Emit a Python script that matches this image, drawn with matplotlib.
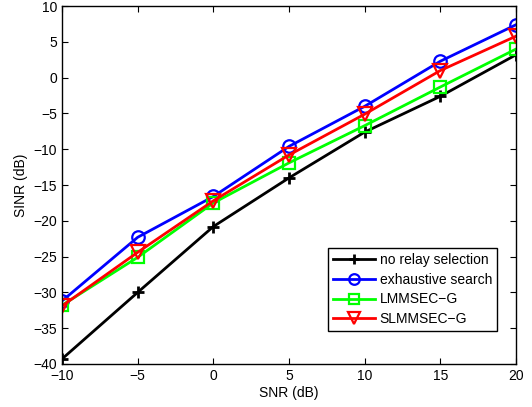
import matplotlib
matplotlib.use("Agg")
import matplotlib.pyplot as plt

plt.rcParams['font.family'] = ['Liberation Sans', 'DejaVu Sans']
plt.rcParams['font.size'] = 10

snr = [-10, -5, 0, 5, 10, 15, 20]
no_relay = [-39.3, -30.0, -20.8, -14.0, -7.6, -2.6, 3.2]
exhaustive = [-31.2, -22.3, -16.6, -9.6, -4.0, 2.3, 7.4]
lmmsec_g = [-31.8, -25.1, -17.5, -11.9, -6.7, -1.3, 4.0]
slmmsec_g = [-31.9, -24.4, -17.2, -10.8, -5.1, 1.0, 5.8]

fig = plt.figure(figsize=(5.32, 4.07), dpi=100)
ax = fig.add_axes([0.1165, 0.1057, 0.8535, 0.8793])

ax.plot(snr, no_relay, color='black', marker='+', markersize=9, mew=2, lw=2,
        label='no relay selection')
ax.plot(snr, exhaustive, color='blue', marker='o', markersize=9, mfc='none', mew=1.6, lw=2,
        label='exhaustive search')
ax.plot(snr, lmmsec_g, color='#00ff00', marker='s', markersize=8, mfc='none', mew=1.6, lw=2,
        label='LMMSEC\u2212G')
ax.plot(snr, slmmsec_g, color='red', marker='v', markersize=10, mfc='none', mew=1.6, lw=2,
        label='SLMMSEC\u2212G')

ax.set_xlim(-10, 20)
ax.set_ylim(-40, 10)
ax.set_xticks(range(-10, 21, 5))
ax.set_yticks(range(-40, 11, 5))
ax.tick_params(direction='in', top=True, right=True, length=4, labelsize=10)
for s in ax.spines.values():
    s.set_linewidth(1.0)
ax.set_xlabel('SNR (dB)', labelpad=2)
ax.set_ylabel('SINR (dB)')

leg = ax.legend(loc='lower right', bbox_to_anchor=(0.958, 0.092), borderaxespad=0,
                fancybox=False, edgecolor='black', framealpha=1, fontsize=10,
                handlelength=3.0, borderpad=0.35, labelspacing=0.42, handletextpad=0.35,
                markerscale=0.85)
leg.get_frame().set_linewidth(1.0)

fig.savefig('out.png', dpi=100)
